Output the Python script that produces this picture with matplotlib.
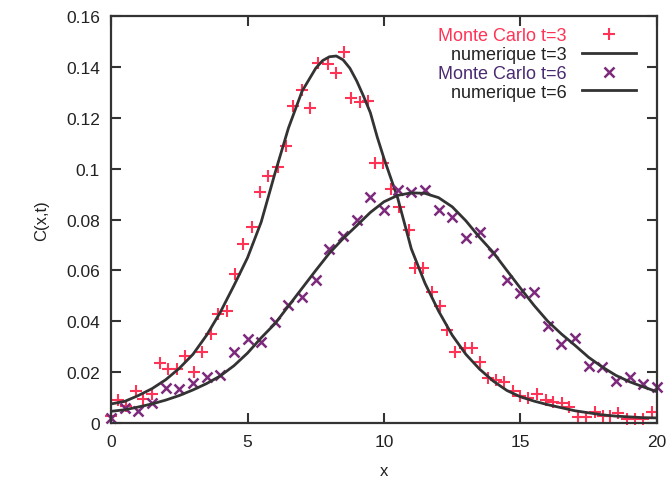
import matplotlib
matplotlib.use('Agg')
import matplotlib.pyplot as plt
from matplotlib.ticker import FuncFormatter

plt.rcParams['font.family'] = ['Liberation Sans', 'DejaVu Sans']

# Monte Carlo t=3
mc3_x = [0.00, 0.27, 0.55, 0.92, 1.18, 1.49, 1.79, 2.10, 2.42, 2.72, 3.04, 3.33,
         3.66, 3.93, 4.23, 4.54, 4.85, 5.15, 5.46, 5.76, 6.10, 6.41, 6.68, 6.98,
         7.29, 7.60, 7.96, 8.24, 8.55, 8.79, 9.12, 9.43, 9.67, 9.95, 10.25, 10.55,
         10.90, 11.14, 11.44, 11.75, 12.05, 12.30, 12.60, 12.97, 13.21, 13.52,
         13.82, 14.12, 14.40, 14.73, 14.98, 15.29, 15.62, 15.92, 16.20, 16.51,
         16.79, 17.12, 17.40, 17.73, 18.01, 18.28, 18.58, 18.89, 19.19, 19.50, 19.83]
mc3_y = [0.0029, 0.0089, 0.0068, 0.0125, 0.0094, 0.0115, 0.0234, 0.0211, 0.0211,
         0.0262, 0.0200, 0.0281, 0.0350, 0.0429, 0.0442, 0.0586, 0.0703, 0.0772,
         0.0907, 0.0970, 0.1008, 0.1090, 0.1245, 0.1309, 0.1238, 0.1417, 0.1410,
         0.1375, 0.1460, 0.1277, 0.1264, 0.1267, 0.1022, 0.1022, 0.0920, 0.0850,
         0.0760, 0.0609, 0.0609, 0.0516, 0.0461, 0.0366, 0.0280, 0.0294, 0.0294,
         0.0241, 0.0176, 0.0168, 0.0162, 0.0127, 0.0105, 0.0097, 0.0114, 0.0090,
         0.0081, 0.0079, 0.0062, 0.0022, 0.0022, 0.0044, 0.0029, 0.0029, 0.0038,
         0.0016, 0.0016, 0.0016, 0.0042]

# Monte Carlo t=6
mc6_x = [0.0, 0.5, 1.0, 1.5, 2.0, 2.5, 3.0, 3.5, 4.0, 4.5, 5.0, 5.5, 6.0, 6.5,
         7.0, 7.5, 8.0, 8.5, 9.0, 9.5, 10.0, 10.5, 11.0, 11.5, 12.0, 12.5, 13.0,
         13.5, 14.0, 14.5, 15.0, 15.5, 16.0, 16.5, 17.0, 17.5, 18.0, 18.5, 19.0,
         19.5, 20.0]
mc6_y = [0.0018, 0.0060, 0.0048, 0.0078, 0.0138, 0.0135, 0.0158, 0.0180, 0.0189,
         0.0278, 0.0332, 0.0320, 0.0398, 0.0464, 0.0494, 0.0562, 0.0684, 0.0736,
         0.0799, 0.0887, 0.0838, 0.0917, 0.0909, 0.0917, 0.0837, 0.0809, 0.0726,
         0.0752, 0.0670, 0.0562, 0.0510, 0.0514, 0.0383, 0.0310, 0.0333, 0.0225,
         0.0219, 0.0166, 0.0180, 0.0153, 0.0143]

# numerique t=3
num3_x = [0.0, 0.5, 1.0, 1.5, 2.0, 2.5, 3.0, 3.5, 4.0, 4.5, 5.0, 5.5, 6.0, 6.5,
          7.0, 7.5, 7.75, 8.0, 8.25, 8.5, 8.75, 9.0, 9.25, 9.5, 9.75, 10.0, 10.5,
          11.0, 11.5, 12.0, 12.5, 13.0, 13.5, 14.0, 14.5, 15.0, 15.5, 16.0, 16.5,
          17.0, 17.5, 18.0, 18.5, 19.0, 19.5, 20.0]
num3_y = [0.0075, 0.0085, 0.0108, 0.0135, 0.0170, 0.0215, 0.0270, 0.0345, 0.0435,
          0.0540, 0.0650, 0.0790, 0.0980, 0.1160, 0.1305, 0.1395, 0.1425, 0.1440,
          0.1443, 0.1428, 0.1395, 0.1345, 0.1285, 0.1220, 0.1125, 0.1040, 0.0885,
          0.0685, 0.0550, 0.0440, 0.0345, 0.0270, 0.0212, 0.0165, 0.0128, 0.0103,
          0.0086, 0.0072, 0.0060, 0.0048, 0.0040, 0.0032, 0.0027, 0.0024, 0.0021,
          0.0020]

# numerique t=6
num6_x = [0.0, 0.5, 1.0, 1.5, 2.0, 2.5, 3.0, 3.5, 4.0, 4.5, 5.0, 5.5, 6.0, 6.5,
          7.0, 7.5, 8.0, 8.5, 9.0, 9.5, 10.0, 10.5, 11.0, 11.5, 12.0, 12.5, 13.0,
          13.5, 14.0, 14.5, 15.0, 15.5, 16.0, 16.5, 17.0, 17.5, 18.0, 18.5, 19.0,
          19.5, 20.0]
num6_y = [0.0046, 0.0052, 0.0063, 0.0075, 0.0090, 0.0108, 0.0130, 0.0155, 0.0185,
          0.0225, 0.0275, 0.0335, 0.0390, 0.0460, 0.0530, 0.0600, 0.0668, 0.0725,
          0.0776, 0.0828, 0.0870, 0.0895, 0.0905, 0.0903, 0.0886, 0.0850, 0.0795,
          0.0730, 0.0671, 0.0600, 0.0530, 0.0462, 0.0400, 0.0350, 0.0305, 0.0258,
          0.0220, 0.0187, 0.0162, 0.0142, 0.0123]

red = '#ff3355'
purple = '#7d2a7d'
dark = '#333333'

fig = plt.figure(figsize=(6.69, 4.81), dpi=100)
ax = fig.add_axes([0.166, 0.1185, 0.816, 0.846])

ax.plot(mc3_x, mc3_y, linestyle='none', marker='+', ms=8, mew=1.5, color=red,
        label='Monte Carlo t=3', clip_on=False)
ax.plot(num3_x, num3_y, color=dark, lw=2, label='numerique t=3')
ax.plot(mc6_x, mc6_y, linestyle='none', marker='x', ms=6.5, mew=1.8, color=purple,
        label='Monte Carlo t=6', clip_on=False)
ax.plot(num6_x, num6_y, color=dark, lw=2, label='numerique t=6')

ax.set_xlim(0, 20)
ax.set_ylim(0, 0.16)
ax.set_xticks([0, 5, 10, 15, 20])
ax.set_yticks([0, 0.02, 0.04, 0.06, 0.08, 0.1, 0.12, 0.14, 0.16])
ax.yaxis.set_major_formatter(FuncFormatter(lambda v, p: '%g' % v))
ax.tick_params(direction='in', length=7, width=1.5, color=dark, top=True, right=True,
               labelsize=12.5, pad=8, labelcolor='#222222')
for s in ax.spines.values():
    s.set_linewidth(1.6)
    s.set_color(dark)

ax.set_xlabel('x', fontsize=12, color='#222222', labelpad=10)
ax.set_ylabel('C(x,t)', fontsize=12, color='#222222', labelpad=12)

leg = ax.legend(loc='upper right', bbox_to_anchor=(0.975, 0.99), frameon=False,
                markerfirst=False, fontsize=13, handlelength=3.0, handletextpad=0.85,
                labelspacing=0.1, borderaxespad=0.0, numpoints=1)
for txt, c in zip(leg.get_texts(), [red, '#222222', '#4a2a70', '#222222']):
    txt.set_color(c)

fig.savefig('out.png', dpi=100)
